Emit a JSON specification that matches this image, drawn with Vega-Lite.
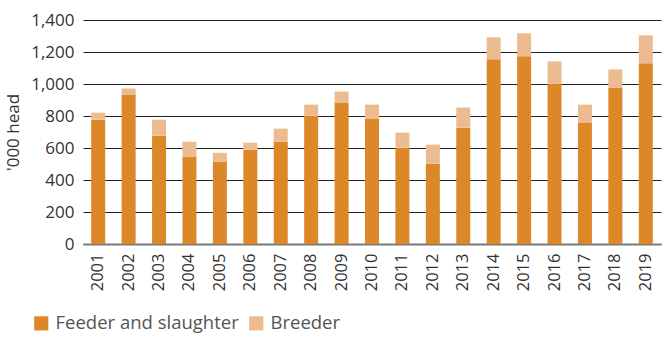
{
  "$schema": "https://vega.github.io/schema/vega-lite/v6.json",
  "autosize": "none",
  "width": 578,
  "height": 224,
  "padding": {"left": 83, "top": 20, "right": 7, "bottom": 94},
  "background": "white",
  "config": {
    "font": "Open Sans",
    "view": {"stroke": null}
  },
  "data": {
    "values": [
      {"year": "2001", "type": "Feeder and slaughter", "value": 777},
      {"year": "2001", "type": "Breeder", "value": 44},
      {"year": "2002", "type": "Feeder and slaughter", "value": 934},
      {"year": "2002", "type": "Breeder", "value": 38},
      {"year": "2003", "type": "Feeder and slaughter", "value": 677},
      {"year": "2003", "type": "Breeder", "value": 100},
      {"year": "2004", "type": "Feeder and slaughter", "value": 545},
      {"year": "2004", "type": "Breeder", "value": 94},
      {"year": "2005", "type": "Feeder and slaughter", "value": 514},
      {"year": "2005", "type": "Breeder", "value": 56},
      {"year": "2006", "type": "Feeder and slaughter", "value": 589},
      {"year": "2006", "type": "Breeder", "value": 44},
      {"year": "2007", "type": "Feeder and slaughter", "value": 639},
      {"year": "2007", "type": "Breeder", "value": 82},
      {"year": "2008", "type": "Feeder and slaughter", "value": 802},
      {"year": "2008", "type": "Breeder", "value": 69},
      {"year": "2009", "type": "Feeder and slaughter", "value": 884},
      {"year": "2009", "type": "Breeder", "value": 69},
      {"year": "2010", "type": "Feeder and slaughter", "value": 784},
      {"year": "2010", "type": "Breeder", "value": 87},
      {"year": "2011", "type": "Feeder and slaughter", "value": 602},
      {"year": "2011", "type": "Breeder", "value": 94},
      {"year": "2012", "type": "Feeder and slaughter", "value": 502},
      {"year": "2012", "type": "Breeder", "value": 119},
      {"year": "2013", "type": "Feeder and slaughter", "value": 727},
      {"year": "2013", "type": "Breeder", "value": 126},
      {"year": "2014", "type": "Feeder and slaughter", "value": 1154},
      {"year": "2014", "type": "Breeder", "value": 138},
      {"year": "2015", "type": "Feeder and slaughter", "value": 1173},
      {"year": "2015", "type": "Breeder", "value": 144},
      {"year": "2016", "type": "Feeder and slaughter", "value": 1003},
      {"year": "2016", "type": "Breeder", "value": 138},
      {"year": "2017", "type": "Feeder and slaughter", "value": 759},
      {"year": "2017", "type": "Breeder", "value": 112},
      {"year": "2018", "type": "Feeder and slaughter", "value": 978},
      {"year": "2018", "type": "Breeder", "value": 113},
      {"year": "2019", "type": "Feeder and slaughter", "value": 1129},
      {"year": "2019", "type": "Breeder", "value": 175}
    ]
  },
  "mark": {"type": "bar"},
  "encoding": {
    "x": {
      "field": "year",
      "type": "ordinal",
      "scale": {"paddingInner": 0.54, "paddingOuter": 0.27},
      "axis": {
        "title": null,
        "labelAngle": -90,
        "labelFontSize": 16.5,
        "labelColor": "#333333",
        "labelPadding": 9,
        "ticks": false,
        "domain": true,
        "domainColor": "#7a7a7a",
        "domainWidth": 2
      }
    },
    "y": {
      "field": "value",
      "type": "quantitative",
      "stack": "zero",
      "scale": {"domain": [0, 1400]},
      "axis": {
        "title": "'000 head",
        "titleFontSize": 17,
        "titleFontWeight": "normal",
        "titleColor": "#333333",
        "titlePadding": 8,
        "values": [0, 200, 400, 600, 800, 1000, 1200, 1400],
        "format": ",d",
        "labelFontSize": 17,
        "labelColor": "#333333",
        "labelPadding": 9,
        "ticks": false,
        "domain": false,
        "grid": true,
        "gridColor": "#222222",
        "gridWidth": 1
      }
    },
    "color": {
      "field": "type",
      "type": "nominal",
      "sort": ["Feeder and slaughter", "Breeder"],
      "scale": {
        "domain": ["Feeder and slaughter", "Breeder"],
        "range": ["#DD8828", "#ECBB8F"]
      },
      "legend": {
        "title": null,
        "orient": "none",
        "direction": "horizontal",
        "legendX": -51,
        "legendY": 294,
        "symbolType": "square",
        "symbolSize": 200,
        "symbolStrokeWidth": 0,
        "labelFontSize": 18.5,
        "labelColor": "#555555",
        "labelLimit": 400,
        "columnPadding": 8,
        "labelOffset": 5
      }
    }
  }
}
